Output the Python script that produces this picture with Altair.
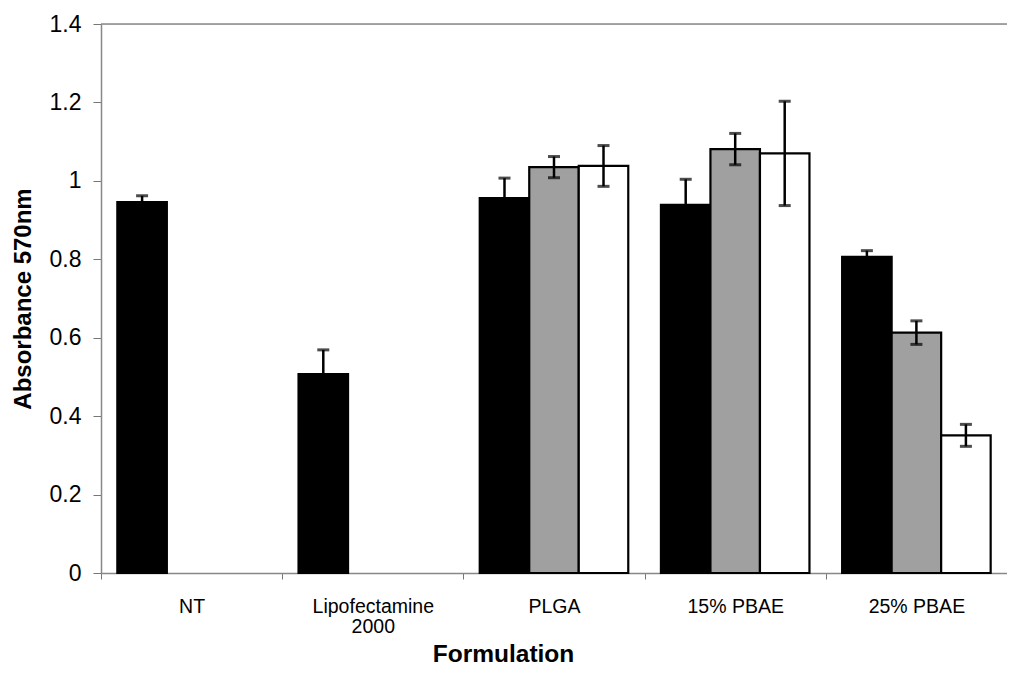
import altair as alt
import pandas as pd

formulations = ["NT", "Lipofectamine 2000", "PLGA", "15% PBAE", "25% PBAE"]
series = ["Series 1", "Series 2", "Series 3"]
series_colors = ["#000000", "#a0a0a0", "#ffffff"]

values_s1 = [0.946, 0.507, 0.956, 0.939, 0.806]
errors_s1 = [0.016, 0.062, 0.051, 0.065, 0.016]
values_s2 = [None, None, 1.035, 1.081, 0.613]
errors_s2 = [None, None, 0.027, 0.040, 0.030]
values_s3 = [None, None, 1.038, 1.070, 0.351]
errors_s3 = [None, None, 0.052, 0.133, 0.028]

rows = []
for s, vals, errs in zip(series, [values_s1, values_s2, values_s3], [errors_s1, errors_s2, errors_s3]):
    for f, v, e in zip(formulations, vals, errs):
        if v is None:
            continue
        rows.append({"Formulation": f, "Series": s, "value": v, "lo": v - e, "hi": v + e})
df = pd.DataFrame(rows)

FONT = "Liberation Sans"

x_enc = alt.X(
    "Formulation:N",
    sort=formulations,
    scale=alt.Scale(domain=formulations, paddingInner=0, paddingOuter=0),
    axis=alt.Axis(
        title="Formulation",
        labelAngle=0,
        labelFontSize=19.5,
        labelFont=FONT,
        labelColor="#000000",
        labelPadding=18,
        labelLineHeight=20,
        labelExpr="datum.label == 'Lipofectamine 2000' ? ['Lipofectamine', '2000'] : datum.label",
        titleFontSize=24.5,
        titleFont=FONT,
        titleFontWeight="bold",
        titleColor="#000000",
        titlePadding=7,
        titleX=402,
        titleAlign="center",
        tickBand="extent",
        tickSize=6,
        tickColor="#777777",
        domainColor="#888888",
        domainWidth=1.5,
        grid=False,
    ),
)
xoff = alt.XOffset(
    "Series:N",
    scale=alt.Scale(domain=series, paddingInner=0, paddingOuter=0.33),
)
y_scale = alt.Scale(domain=[0, 1.4], nice=False, zero=True)
y_axis = alt.Axis(
    title="Absorbance 570nm",
    values=[0, 0.2, 0.4, 0.6, 0.8, 1.0, 1.2, 1.4],
    labelExpr="datum.value == 0 ? '0' : format(datum.value, '.1~f')",
    labelFontSize=23,
    labelFont=FONT,
    labelColor="#000000",
    labelPadding=12,
    titleFontSize=24,
    titleFont=FONT,
    titleFontWeight="bold",
    titleColor="#000000",
    titlePadding=14,
    tickSize=8,
    tickColor="#777777",
    domainColor="#888888",
    domainWidth=1.5,
    grid=False,
)

base = alt.Chart(df)

bars = base.mark_bar(stroke="#000000", strokeWidth=2.2).encode(
    x=x_enc,
    xOffset=xoff,
    y=alt.Y("value:Q", scale=y_scale, axis=y_axis),
    fill=alt.Fill("Series:N", scale=alt.Scale(domain=series, range=series_colors), legend=None),
)

err_rule = base.mark_rule(color="#000000", strokeWidth=2.5).encode(
    x=alt.X("Formulation:N", sort=formulations),
    xOffset=xoff,
    y=alt.Y("lo:Q", scale=y_scale),
    y2="hi:Q",
)
cap_hi = base.mark_tick(color="#000000", thickness=3, size=12, orient="horizontal").encode(
    x=alt.X("Formulation:N", sort=formulations),
    xOffset=xoff,
    y=alt.Y("hi:Q", scale=y_scale),
)
cap_lo = base.mark_tick(color="#000000", thickness=3, size=12, orient="horizontal").encode(
    x=alt.X("Formulation:N", sort=formulations),
    xOffset=xoff,
    y=alt.Y("lo:Q", scale=y_scale),
)

top_line = alt.Chart(pd.DataFrame({"v": [1.4]})).mark_rule(color="#888888", strokeWidth=1.5).encode(
    y=alt.Y("v:Q", scale=y_scale)
)

chart = (
    alt.layer(bars, err_rule, cap_hi, cap_lo, top_line)
    .properties(
        width=906,
        height=549,
        autosize=alt.AutoSizeParams(type="none"),
        padding={"left": 93, "top": 16, "right": 0, "bottom": 100},
    )
    .configure_view(stroke=None)
    .configure(background="#ffffff")
)

chart.save("out.html", embed_options={"renderer": "svg", "actions": False})
